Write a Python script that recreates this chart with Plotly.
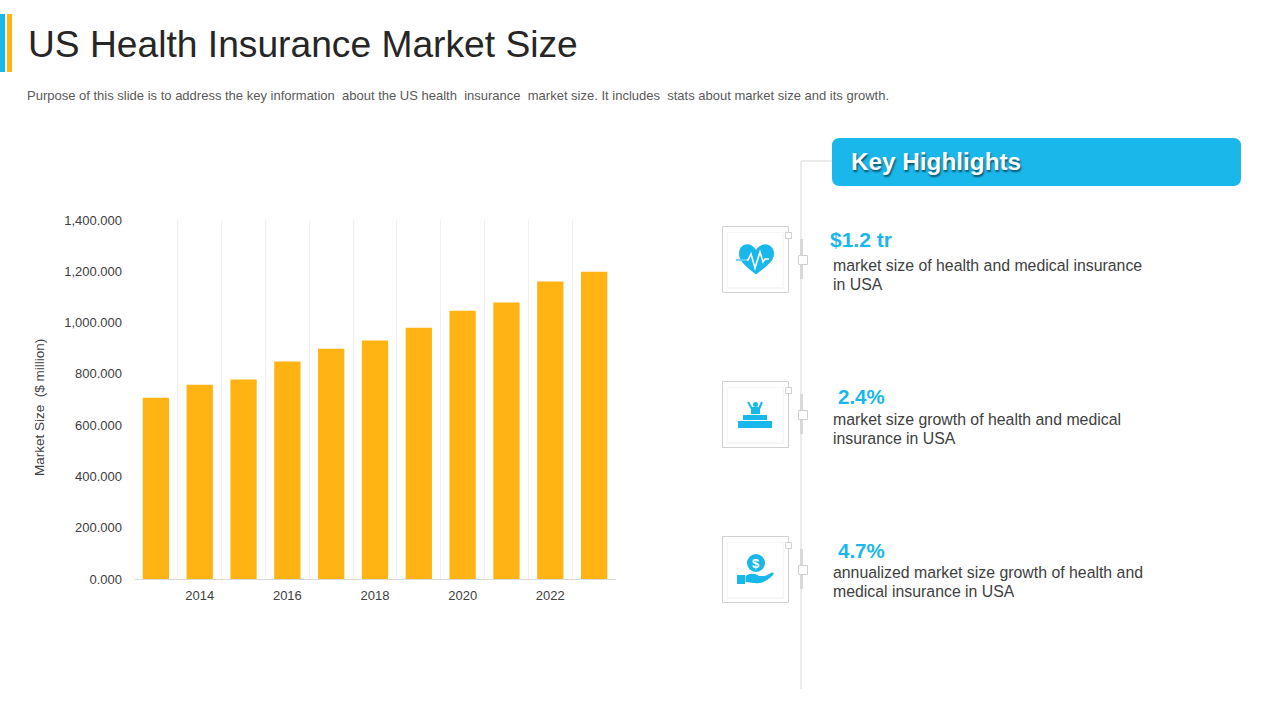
import plotly.graph_objects as go

years = [2013, 2014, 2015, 2016, 2017, 2018, 2019, 2020, 2021, 2022, 2023]
market_size = [707, 758, 778, 848, 898, 930, 980, 1046, 1078, 1160, 1198]
y_ticks = [0, 200, 400, 600, 800, 1000, 1200, 1400]
y_labels = ["0.000", "200.000", "400.000", "600.000", "800.000", "1,000.000", "1,200.000", "1,400.000"]
x_ticks = [2014, 2016, 2018, 2020, 2022]

FONT = "Liberation Sans, Arial, sans-serif"
BLUE = "#1AB7EA"
AMBER = "#FFB414"
W, H = 1280, 720


def px(x):
    return x / W


def py(y):
    return 1 - y / H


def rect(x0, y0, x1, y1, fill=None, line=None, lw=1):
    return dict(type="rect", xref="paper", yref="paper", x0=px(x0), x1=px(x1), y0=py(y0), y1=py(y1),
                fillcolor=fill or "rgba(0,0,0,0)", line=dict(color=line or "rgba(0,0,0,0)", width=lw if line else 0))


def line(x0, y0, x1, y1, color="#D9D9D9", lw=1):
    return dict(type="line", xref="paper", yref="paper", x0=px(x0), x1=px(x1), y0=py(y0), y1=py(y1),
                line=dict(color=color, width=lw))


def path(cmds, fill=BLUE, stroke=None, lw=0):
    out = []
    for c in cmds:
        if isinstance(c, str):
            out.append(c)
        else:
            out.append(f"{px(c[0]):.5f},{py(c[1]):.5f}")
    return dict(type="path", xref="paper", yref="paper", path=" ".join(out),
                fillcolor=fill or "rgba(0,0,0,0)", line=dict(color=stroke or "rgba(0,0,0,0)", width=lw))


def text(x, y, s, size, color="#404040", anchor="left", bold=False, **kw):
    return dict(xref="paper", yref="paper", x=px(x), y=py(y), text=f"<b>{s}</b>" if bold else s, showarrow=False,
                xanchor=anchor, yanchor="middle", align="left", borderpad=0, borderwidth=0,
                font=dict(family=FONT, size=size, color=color, **kw))


shapes = [
    rect(0, 14, 5, 72, fill=BLUE),
    rect(7, 14, 12, 72, fill=AMBER),
    line(801, 161, 801, 689),
    line(801, 161, 832, 161),
    path(["M", (840, 138), "L", (1233, 138), "Q", (1241, 138), (1241, 146), "L", (1241, 178), "Q", (1241, 186), (1233, 186),
          "L", (840, 186), "Q", (832, 186), (832, 178), "L", (832, 146), "Q", (832, 138), (840, 138), "Z"]),
]

for top in (226, 381, 536):
    shapes += [
        rect(722.5, top + 0.5, 788.5, top + 66.5, line="#D0D0D0"),
        rect(727, top + 6, 784, top + 63, fill="#F6F6F6"),
        rect(728, top + 7, 782.5, top + 61, fill="#FFFFFF"),
        rect(785.5, top + 6.5, 791.5, top + 12.5, fill="#FFFFFF", line="#D0D0D0"),
        rect(800, top + 13, 803, top + 53, fill="#D9D9D9"),
        rect(798.5, top + 29.5, 807.5, top + 38.5, fill="#FFFFFF", line="#D0D0D0"),
    ]

# heart icon
shapes += [
    path(["M", (756, 274.5), "C", (748, 268), (739, 262), (739, 254), "C", (739, 243), (751, 241), (756, 250),
          "C", (761, 241), (774, 243), (774, 254), "C", (774, 262), (764, 268), (756, 274.5), "Z"]),
    path(["M", (737, 260), "L", (748, 260), "L", (751, 254), "L", (755, 268), "L", (760, 252), "L", (763, 262),
          "L", (765, 259), "L", (769, 259)], fill=None, stroke="#FFFFFF", lw=1.6),
    path(["M", (736, 260), "L", (747, 260)], fill=None, stroke=BLUE, lw=1.2),
]

# podium icon
shapes += [
    rect(738, 421, 772, 428, fill=BLUE),
    rect(743, 415, 767, 420, fill=BLUE),
    rect(751, 407, 760, 414, fill=BLUE),
    dict(type="circle", xref="paper", yref="paper", x0=px(753), x1=px(758), y0=py(407), y1=py(402),
         fillcolor=BLUE, line=dict(width=0)),
    path(["M", (752, 409), "L", (748, 402)], fill=None, stroke=BLUE, lw=2),
    path(["M", (759, 409), "L", (762, 402)], fill=None, stroke=BLUE, lw=2),
]

# coin in hand icon
shapes += [
    dict(type="circle", xref="paper", yref="paper", x0=px(747), x1=px(765), y0=py(572), y1=py(554),
         fillcolor=BLUE, line=dict(width=0)),
    rect(737, 575, 745, 584, fill=BLUE),
    path(["M", (745.5, 576), "C", (750, 573), (755, 573), (759, 576), "L", (765, 576), "L", (772, 572.5), "C", (774, 572), (774, 574), (773, 575),
          "C", (769, 579), (765, 582), (760, 583), "C", (755, 584), (750, 582), (745.5, 582), "Z"]),
]

annotations = [
    text(28, 44, "US Health Insurance Market Size", 37.2, color="#262626"),
    text(27, 96, "Purpose of this slide is to address the key information  about the US health  insurance  market size. It includes  stats about market size and its growth.", 13, color="#595959"),
    text(851, 162, "Key Highlights", 24.3, color="#FFFFFF", bold=True, shadow="1px 2px 2px rgba(0,0,0,0.55)"),
    text(830, 240, "$1.2 tr", 21, color=BLUE, bold=True),
    text(833, 265.5, "market size of health and medical insurance", 15.85),
    text(833, 284.5, "in USA", 15.85),
    text(838, 396.5, "2.4%", 20.5, color=BLUE, bold=True),
    text(833, 419.5, "market size growth of health and medical", 15.85),
    text(833, 438.5, "insurance in USA", 15.85),
    text(838, 550.5, "4.7%", 20.5, color=BLUE, bold=True),
    text(833, 572.5, "annualized market size growth of health and", 15.85),
    text(833, 591.5, "medical insurance in USA", 15.85),
    text(756, 563, "$", 13, color="#FFFFFF", anchor="center", bold=True),
    dict(text="Market Size  ($ million)", xref="paper", yref="paper", x=px(39), y=py(408), textangle=-90,
         showarrow=False, xanchor="center", yanchor="middle", font=dict(family=FONT, size=13.5, color="#404040")),
]

fig = go.Figure(go.Bar(x=years, y=market_size, width=0.6, marker=dict(color=AMBER, line=dict(width=0))))
fig.update_layout(
    width=W, height=H, margin=dict(l=0, r=0, t=0, b=0, pad=0, autoexpand=False), autosize=False,
    paper_bgcolor="#FFFFFF", plot_bgcolor="#FFFFFF", showlegend=False,
    font=dict(family=FONT, size=13, color="#404040"),
    shapes=shapes, annotations=annotations,
    xaxis=dict(domain=[px(134), px(616)], range=[2012.5, 2023.5], tickvals=x_ticks, showgrid=False,
               ticks="", ticklen=0, zeroline=False, showline=True, linecolor="#D9D9D9", linewidth=1,
               ticklabelstandoff=4,
               minor=dict(tick0=2012.5, dtick=1, showgrid=True, gridcolor="#F0F0F0", gridwidth=1, ticks=""),
               tickfont=dict(size=13, color="#404040")),
    yaxis=dict(domain=[py(579), py(220)], range=[0, 1400], tickvals=y_ticks, ticktext=y_labels,
               showgrid=False, zeroline=False, ticks="", showline=False, ticklabelstandoff=11,
               tickfont=dict(size=13, color="#404040")),
)
fig.write_html("out.html", config=dict(displayModeBar=False), post_script="document.body.style.margin='0';")
